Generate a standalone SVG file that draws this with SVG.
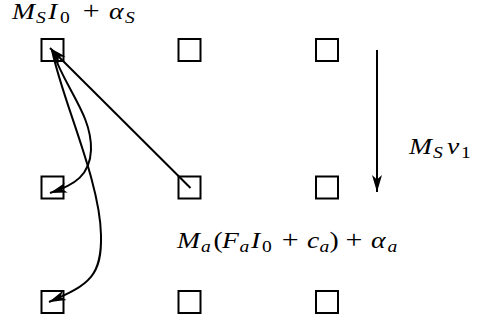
<svg xmlns="http://www.w3.org/2000/svg" width="479" height="325" viewBox="0 0 479 325">
<style>
.n{fill:none;stroke:#000;stroke-width:2}
.c{fill:none;stroke:#000;stroke-width:2}
.t{font-family:'Liberation Serif','Times New Roman',serif;font-size:24px;fill:#000}
.i{font-style:italic}
.s{font-size:17px}
.p{font-size:26px}
</style>
<defs>
<marker id="ah" markerUnits="userSpaceOnUse" viewBox="-18 -6 19 12" markerWidth="19" markerHeight="12" refX="0" refY="0" orient="auto">
<path d="M0,0 L-17,-5 L-12.5,0 L-17,5 Z" fill="#000"/>
</marker>
</defs>
<g id="n11"><rect class="n" x="41.5" y="39" width="22" height="22"/></g>
<g id="n12"><rect class="n" x="178.5" y="39" width="22" height="22"/></g>
<g id="n13"><rect class="n" x="316" y="39" width="22" height="22"/></g>
<g id="n21"><rect class="n" x="41.5" y="176.5" width="22" height="22"/></g>
<g id="n22"><rect class="n" x="178.5" y="176.5" width="22" height="22"/></g>
<g id="n23"><rect class="n" x="316" y="176.5" width="22" height="22"/></g>
<g id="n31"><rect class="n" x="41.5" y="291" width="22" height="22"/></g>
<g id="n32"><rect class="n" x="178.5" y="291" width="22" height="22"/></g>
<g id="n33"><rect class="n" x="316" y="291" width="22" height="22"/></g>
<g id="connectors">
<path class="c" d="M190.5,188 L50,48" marker-end="url(#ah)"/>
<path class="c" d="M52,50 C66,90 92,115 91,150 C90,175 75,185 50,193" marker-end="url(#ah)"/>
<path class="c" d="M52,50 C62,100 100,180 101,235 C102,275 90,285 49,302" marker-end="url(#ah)"/>
<path class="c" d="M377,50 L377,192" marker-end="url(#ah)"/>
</g>
<g id="labels">
<text class="t" transform="translate(12 0) scale(1.15 1)"><tspan class="i" x="0" y="19">M</tspan><tspan class="i s" x="20.9" y="23">S</tspan><tspan class="i" x="31.3" y="19">I</tspan><tspan class="s" x="41.7" y="23">0</tspan><tspan class="p" x="61.5" y="19">+</tspan><tspan class="i" x="84.3" y="19">α</tspan><tspan class="i s" x="98.3" y="23">S</tspan></text>
<text class="t" transform="translate(409 0) scale(1.15 1)"><tspan class="i" x="0" y="154.5">M</tspan><tspan class="i s" x="20.9" y="158.5">S</tspan><tspan class="i" x="33" y="154.5">v</tspan><tspan class="s" x="45.2" y="158.5">1</tspan></text>
<text class="t" transform="translate(177 0) scale(1.15 1)"><tspan class="i" x="0" y="248">M</tspan><tspan class="i s" x="20.87" y="252">a</tspan><tspan x="31.74" y="248">(</tspan><tspan class="i" x="39.13" y="248">F</tspan><tspan class="i s" x="54.35" y="252">a</tspan><tspan class="i" x="64.35" y="248">I</tspan><tspan class="s" x="73.91" y="252">0</tspan><tspan class="p" x="91" y="248">+</tspan><tspan class="i" x="113.04" y="248">c</tspan><tspan class="i s" x="123.91" y="252">a</tspan><tspan x="132.61" y="248">)</tspan><tspan class="p" x="146.5" y="248">+</tspan><tspan class="i" x="168.7" y="248">α</tspan><tspan class="i s" x="183.04" y="252">a</tspan></text>
</g>
</svg>
